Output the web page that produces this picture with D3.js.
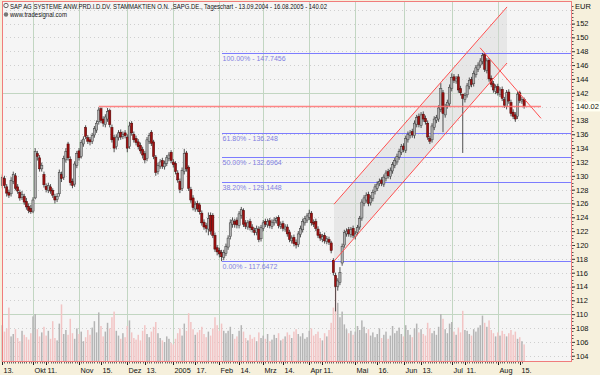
<!DOCTYPE html>
<html>
<head>
<meta charset="utf-8">
<script src="https://cdn.jsdelivr.net/npm/d3@7/dist/d3.min.js"></script>
<style>
  body { margin: 0; background: #f6f0dc; }
  svg { display: block; font-family: "Liberation Sans", Arial, sans-serif; }
</style>
</head>
<body>
<div class="chart"></div>
<script>
// trading calendar (weekdays, exchange holidays removed)
const startDate = "2004-09-13", endDate = "2005-08-16";
const holidays = ["2004-12-24", "2004-12-31", "2005-03-25", "2005-03-28"];

// daily OHLC
const open = [
  128.6,129.6,128.4,127.6,127.4,129.2,130.0,128.4,127.6,126.9,
  127.0,126.3,125.6,125.3,124.9,126.8,133.2,132.6,131.0,130.2,
  128.5,127.9,128.4,127.9,127.0,126.6,127.4,130.2,129.8,132.3,
  134.6,132.4,129.2,128.8,131.5,133.6,132.8,134.6,137.0,135.5,
  135.2,135.0,135.9,136.6,137.8,139.7,138.2,137.4,138.2,139.4,
  137.0,135.5,134.2,135.5,136.3,135.7,136.2,135.6,134.2,137.6,
  136.0,135.4,134.9,134.4,133.8,133.2,132.5,135.0,136.3,134.9,
  132.7,130.6,131.4,132.2,131.3,131.8,132.5,133.4,132.0,131.8,
  130.4,129.2,128.2,130.6,133.3,131.2,128.0,126.8,125.2,126.0,
  125.8,124.6,123.3,122.8,122.3,124.3,124.3,121.4,119.6,119.2,
  118.9,118.2,118.8,119.7,121.2,123.0,123.4,123.6,122.8,124.3,
  125.0,123.2,122.6,123.4,122.6,122.1,121.8,122.3,120.9,122.4,
  123.4,122.9,123.5,122.7,123.2,123.5,124.0,122.7,123.1,122.3,
  122.6,121.8,120.6,121.1,120.4,120.1,121.5,122.2,123.2,123.6,
  124.0,124.6,123.3,123.4,122.3,121.5,120.8,121.4,120.5,120.8,
  120.3,117.8,115.6,114.0,114.6,117.4,120.0,121.6,122.2,121.5,
  122.4,121.2,121.8,122.6,123.9,126.0,126.5,127.3,126.1,126.7,
  127.7,128.2,128.9,129.4,128.8,129.6,130.6,129.9,130.7,131.5,
  132.0,132.7,133.4,134.3,133.7,135.2,135.8,136.4,135.8,137.4,
  138.6,137.3,138.9,138.3,137.6,135.4,135.2,137.0,138.0,138.2,
  139.6,142.0,138.8,140.1,140.4,142.6,144.3,143.7,144.3,142.6,
  141.8,141.0,141.7,142.9,143.9,143.3,144.6,145.4,146.0,146.5,
  147.5,145.2,146.7,144.1,143.3,142.2,142.9,141.8,142.5,141.0,
  140.0,142.1,140.6,139.2,138.8,138.6,142.0,140.8,141.0
];
const high = [
  130.2,130.0,128.8,128.0,129.8,130.6,130.4,128.8,128.0,127.8,
  127.4,126.8,126.0,125.8,126.9,134.0,133.6,133.0,131.9,130.6,
  128.9,129.0,128.8,128.2,127.4,127.5,130.9,130.6,132.9,134.0,
  134.9,132.8,129.6,132.1,133.6,134.0,135.2,135.7,137.3,135.9,
  135.6,136.2,137.2,138.0,139.9,139.9,138.6,138.9,139.8,139.7,
  137.4,135.9,136.0,136.6,136.7,136.4,136.6,136.0,137.8,137.9,
  136.4,135.8,135.3,134.8,134.2,133.6,135.6,136.2,136.6,135.2,
  133.0,131.9,132.4,132.6,132.2,133.0,133.4,133.7,132.4,132.1,
  130.8,129.6,131.2,133.9,133.6,131.5,128.4,127.2,126.3,126.4,
  126.1,125.0,123.7,123.2,124.7,124.7,124.6,121.8,120.0,119.6,
  119.3,119.3,120.2,121.4,123.7,124.0,123.8,124.0,124.9,125.5,
  125.3,123.6,123.6,123.8,123.0,122.5,122.8,122.7,122.9,123.6,
  123.8,123.8,123.9,123.7,124.0,124.1,124.3,123.4,123.5,123.0,
  123.0,122.2,121.4,121.5,120.8,122.0,122.8,123.8,124.2,124.6,
  125.1,124.9,123.7,123.8,122.7,121.9,121.6,121.8,121.3,121.2,
  120.6,118.1,116.0,115.2,116.8,120.2,122.2,122.4,122.6,122.6,
  122.8,122.0,122.9,124.2,126.6,127.2,127.6,127.7,127.2,128.0,
  128.8,129.2,129.6,129.8,130.2,130.8,131.0,131.2,132.0,132.6,
  133.2,133.9,134.6,134.7,135.8,136.4,136.6,136.8,138.0,138.8,
  139.0,139.2,139.3,138.7,138.0,135.8,137.6,138.6,138.8,140.2,
  143.4,142.4,140.4,141.0,143.2,144.8,144.7,144.4,144.7,143.0,
  141.8,142.0,143.4,144.2,144.3,145.2,146.0,146.4,147.0,147.75,
  147.7,147.0,147.0,144.5,143.7,143.2,143.3,142.8,142.9,141.4,
  142.4,142.5,141.0,139.6,139.2,142.2,142.3,141.4,141.3
];
const low = [
  128.2,128.2,127.0,126.8,127.0,128.8,127.9,127.4,126.4,126.5,
  125.8,125.1,124.6,124.5,124.6,126.6,132.2,130.6,130.6,128.3,
  127.6,127.5,127.4,126.8,126.0,126.2,127.0,129.1,129.4,131.9,
  132.2,128.6,128.2,128.4,131.1,132.2,132.5,134.2,135.3,134.6,
  134.4,134.6,135.5,136.2,137.4,137.6,137.1,137.0,137.8,137.0,
  134.8,133.4,133.8,135.1,135.2,135.3,135.4,133.4,133.9,135.8,
  134.8,134.4,133.8,133.2,132.5,131.8,132.1,134.6,134.3,132.4,
  130.0,130.2,131.0,131.0,130.9,131.4,132.1,131.8,131.2,130.2,
  129.0,127.5,127.8,130.2,130.6,127.8,126.1,125.0,124.8,124.8,
  124.4,122.8,122.2,121.8,121.4,121.5,121.0,119.0,118.5,118.2,
  117.65,117.8,118.4,119.3,120.8,122.5,122.5,122.4,122.4,123.8,
  122.6,122.3,122.2,122.1,121.8,121.4,121.4,120.4,120.5,122.0,
  122.6,122.5,122.4,122.3,122.8,123.1,122.4,122.3,122.0,121.9,
  121.2,120.4,120.2,119.8,119.5,119.7,121.1,121.8,122.8,123.2,
  123.6,122.8,122.6,122.0,121.0,120.6,120.4,120.2,120.1,120.0,
  118.8,115.6,110.4,113.4,114.2,117.0,119.6,121.2,121.2,121.1,
  121.0,120.8,121.4,122.2,123.5,125.6,126.1,125.6,125.7,126.3,
  127.3,127.8,128.5,128.5,128.4,129.2,129.6,129.5,130.3,131.1,
  131.6,132.3,133.0,133.4,133.3,134.8,135.4,135.5,135.4,137.0,
  137.0,136.9,137.8,137.4,135.2,134.6,134.8,136.6,137.6,137.8,
  139.2,136.3,138.4,139.7,140.0,142.2,143.4,143.3,142.0,141.6,
  133.3,140.6,141.3,142.5,142.8,142.9,144.2,145.0,145.6,146.1,
  145.0,144.8,143.6,142.8,142.0,141.8,141.6,141.4,140.8,139.8,
  139.6,140.4,138.6,138.2,137.8,138.2,140.5,140.4,139.7
];
const close = [
  129.8,128.6,127.5,127.2,129.3,130.2,128.2,127.8,126.8,127.3,
  126.2,125.5,125.0,124.8,126.5,133.5,132.8,131.0,131.5,128.7,
  128.0,128.6,127.8,127.2,126.5,127.0,130.5,129.6,132.5,133.5,
  132.6,129.0,128.6,131.7,133.2,132.6,134.8,135.3,135.7,135.0,
  134.9,135.8,136.8,137.6,139.5,138.0,137.6,138.5,139.3,137.4,
  135.2,134.0,135.6,136.2,135.6,136.0,135.8,134.0,137.2,136.2,
  135.2,134.8,134.2,133.6,133.0,132.3,135.2,135.8,134.7,132.8,
  130.5,131.5,132.0,131.4,131.8,132.6,133.0,132.2,131.6,130.6,
  129.4,128.0,130.8,133.2,131.0,128.2,126.5,125.4,125.9,125.2,
  124.8,123.2,122.6,122.4,123.8,122.0,121.4,119.4,119.0,118.7,
  118.3,118.9,119.8,121.0,123.2,123.6,123.0,122.9,124.5,125.1,
  123.0,122.7,123.2,122.5,122.2,121.8,122.4,120.8,122.5,123.2,
  123.0,123.4,122.8,123.3,123.6,123.8,122.8,123.0,122.4,122.6,
  121.6,120.8,121.0,120.2,120.0,121.6,122.4,123.4,123.8,124.2,
  124.6,123.2,123.0,122.4,121.4,121.0,121.2,120.6,120.9,120.4,
  119.2,116.0,114.0,114.8,116.0,119.8,121.8,122.0,121.6,122.2,
  121.4,121.6,122.5,123.8,126.2,126.8,127.2,126.0,126.8,127.6,
  128.4,128.8,129.2,128.9,129.8,130.4,130.0,130.8,131.6,132.2,
  132.8,133.5,134.2,133.8,135.4,136.0,136.2,135.9,137.6,138.4,
  137.4,138.8,138.2,137.8,135.6,135.0,137.2,138.2,138.4,139.8,
  142.6,139.0,140.0,140.6,142.8,144.2,143.8,144.0,142.4,142.0,
  141.2,141.6,143.0,143.8,143.2,144.8,145.6,146.0,146.6,147.4,
  145.4,146.6,144.0,143.2,142.4,142.8,142.0,142.4,141.2,140.2,
  142.0,140.8,139.0,138.6,138.2,141.8,140.9,141.0,140.02
];
// volume, million shares
const volume = [
  4.6,3.8,4.2,6.8,3.2,3.5,4.1,3.0,2.6,3.9,
  3.4,3.1,2.8,3.6,5.7,6.0,4.1,3.2,3.7,4.4,
  3.3,3.9,2.9,5.1,3.0,2.7,4.8,7.2,3.5,4.0,
  3.4,5.4,3.6,2.9,4.2,3.5,3.8,2.6,3.1,4.0,
  3.4,4.3,5.1,3.7,6.2,4.5,3.2,3.8,4.9,4.2,
  5.6,6.3,3.9,3.3,2.9,3.6,3.1,4.5,5.2,3.7,
  3.0,2.8,3.4,2.7,3.9,4.6,3.5,3.1,3.8,4.4,
  5.0,3.6,3.0,2.7,2.5,3.2,2.9,2.4,2.2,2.9,
  3.6,4.2,3.3,4.8,3.9,6.1,5.0,4.1,3.4,3.7,
  4.0,4.4,3.5,3.1,3.8,3.3,4.2,5.6,4.6,3.9,
  4.8,3.9,3.6,3.9,4.4,3.5,2.9,3.2,3.9,4.6,
  3.8,3.0,2.7,3.4,2.9,3.1,2.6,3.7,3.0,3.3,
  2.9,3.5,2.6,2.8,3.4,3.0,3.6,2.7,2.9,3.2,
  3.7,3.4,3.0,3.8,4.1,3.5,3.2,3.6,2.9,3.1,
  3.9,4.2,3.3,3.5,3.8,3.0,2.7,3.6,3.2,4.0,
  4.9,6.8,9.5,7.4,5.6,6.3,4.7,4.1,3.6,3.9,
  3.4,3.8,4.5,4.0,5.2,4.4,3.6,4.1,3.3,3.7,
  3.1,3.5,4.2,3.0,3.4,3.8,2.9,3.3,4.5,3.6,
  3.9,4.3,3.5,3.2,4.6,4.0,3.4,3.1,4.2,4.8,
  3.7,4.1,3.5,3.3,4.9,4.2,3.6,3.9,3.4,4.4,
  6.0,5.4,4.1,3.6,4.8,5.0,3.8,3.4,4.3,3.7,
  6.4,4.0,3.9,3.5,3.3,4.1,3.8,4.3,4.6,5.8,
  4.9,4.4,5.2,4.0,3.6,3.2,3.7,3.3,3.9,3.5,
  3.2,3.6,4.0,3.4,3.8,2.9,3.1,2.6,2.2
];

// axis labels (140 is hidden behind the last-price marker)
const yTickLabels = [104,106,108,110,112,114,116,118,120,122,124,126,128,130,132,134,136,138,142,144,146,148,150,152];
const ySolidGrid = [110, 126, 142];
const monthDates = ["2004-10-01","2004-11-01","2004-12-01","2005-01-03","2005-02-01","2005-03-01","2005-04-01","2005-05-02","2005-06-01","2005-07-01","2005-08-01"];
const monthNames = ["Okt","Nov","Dez","2005","Feb","Mrz","Apr","Mai","Jun","Jul","Aug"];
const dayDates = ["2004-09-13","2004-10-11","2004-11-15","2004-12-13","2005-01-17","2005-02-14","2005-03-14","2005-04-11","2005-05-16","2005-06-13","2005-07-11","2005-08-15"];
const dayNames = ["13.","11.","15.","13.","17.","14.","14.","11.","16.","13.","11.","15."];

// drawing tools (day index, price)
const fibNames = ["100.00%","61.80%","50.00%","38.20%","0.00%"];
const fibValues = [147.7456, 136.248, 132.6964, 129.1448, 117.6472];
const fibFrom = 100;
const channelUpper = [[151.3, 125.9], [230.2, 154.4]];
const channelLower = [[151.3, 117.65], [230.2, 146.3]];
const downTrend = [[217.9, 148.5], [245.7, 138.3]];
const resistance = [[44, 140.02], [245.7, 140.02]];
const lastPrice = 140.02;

const titleText = "SAP AG SYSTEME ANW.PRD.I.D.DV. STAMMAKTIEN O.N. ,SAPG.DE., Tageschart - 13.09.2004 - 16.08.2005 - 140.02";

const W = 600, H = 375;
const plot = {left: 2, right: 572, top: 1, bottom: 362};

const fmt = d3.timeFormat("%Y-%m-%d");
const parse = d3.timeParse("%Y-%m-%d");
const days = d3.timeDay.range(parse(startDate), d3.timeDay.offset(parse(endDate), 1))
    .filter(d => d.getDay() > 0 && d.getDay() < 6 && !holidays.includes(fmt(d)));
const dayIndex = s => days.findIndex(d => fmt(d) === s);

const x = d3.scaleLinear().domain([0, 259.7]).range([2.3, 571.7]);
const y = d3.scaleLinear().domain([103.09, 155.26]).range([362, 1]);
const vh = d3.scaleLinear().domain([0, 10]).range([0, 80]);

const svg = d3.select(".chart").append("svg")
    .attr("width", W).attr("height", H);

svg.append("rect").attr("width", W).attr("height", H).attr("fill", "#f6f0dc");
svg.append("rect")
    .attr("x", plot.left).attr("y", plot.top)
    .attr("width", plot.right - plot.left).attr("height", plot.bottom - plot.top)
    .attr("fill", "#f5f5f5");

const g = svg.append("g");

// grid
d3.range(104, 156, 2).forEach(v => {
    const solid = ySolidGrid.includes(v);
    g.append("line")
        .attr("x1", plot.left).attr("x2", plot.right)
        .attr("y1", Math.round(y(v)) + 0.5).attr("y2", Math.round(y(v)) + 0.5)
        .attr("stroke", solid ? "#c2d6c2" : "#cfcfcf")
        .attr("shape-rendering", "crispEdges")
        .attr("stroke-dasharray", solid ? null : "1,3");
});
monthDates.forEach(s => {
    const xx = Math.round(x(dayIndex(s))) + 0.5;
    g.append("line")
        .attr("x1", xx).attr("x2", xx).attr("y1", plot.top).attr("y2", plot.bottom)
        .attr("stroke", "#c2d6c2").attr("shape-rendering", "crispEdges");
});

// channel shading
const chPoly = [channelUpper[0], channelUpper[1], channelLower[1], channelLower[0]];
g.append("path")
    .attr("d", "M" + chPoly.map(p => [x(p[0]), y(p[1])].join(",")).join("L") + "Z")
    .attr("fill", "#d8d8d8").attr("fill-opacity", 0.45);

// fibonacci retracement
fibValues.forEach((v, k) => {
    const yy = Math.round(y(v)) + 0.5;
    g.append("line")
        .attr("x1", Math.round(x(fibFrom))).attr("x2", plot.right)
        .attr("y1", yy).attr("y2", yy)
        .attr("stroke", "#7c7cff").attr("stroke-width", 1)
        .attr("shape-rendering", "crispEdges");
    g.append("text")
        .attr("x", x(fibFrom) + 1).attr("y", yy + 7.5)
        .attr("font-size", 7).attr("fill", "#7f7fe0")
        .text(fibNames[k] + " - " + v);
});

// volume
const vol = g.append("g");
volume.forEach((v, i) => {
    vol.append("rect")
        .attr("x", x(i) - 0.75).attr("width", 1.5)
        .attr("y", plot.bottom - vh(v)).attr("height", vh(v))
        .attr("fill", close[i] < open[i] ? "#f2c4c4" : "#b4b4b4");
});

// candles
const candles = g.append("g");
close.forEach((c, i) => {
    const o = open[i], up = c >= o;
    const cx = x(i);
    candles.append("line")
        .attr("x1", cx).attr("x2", cx)
        .attr("y1", y(high[i])).attr("y2", y(low[i]))
        .attr("stroke", "#2a2a2a").attr("stroke-width", 0.8);
    const top = y(Math.max(o, c)), bot = y(Math.min(o, c));
    candles.append("rect")
        .attr("x", cx - 1.1).attr("width", 2.2)
        .attr("y", top).attr("height", Math.max(1, bot - top))
        .attr("fill", up ? "#b0b0b0" : "#9e1010")
        .attr("stroke", up ? "#3a3a3a" : "#4a0808").attr("stroke-width", 0.5);
});

// trend lines
const lineOf = pts => "M" + pts.map(p => [x(p[0]), y(p[1])].join(",")).join("L");
[channelUpper, channelLower, downTrend].forEach(pts => {
    g.append("path").attr("d", lineOf(pts))
        .attr("fill", "none").attr("stroke", "#ff5050").attr("stroke-width", 1);
});
g.append("path").attr("d", lineOf(resistance))
    .attr("fill", "none").attr("stroke", "#ff7070").attr("stroke-width", 1.6).attr("stroke-opacity", 0.85);

// border
svg.append("rect")
    .attr("x", plot.left + 0.5).attr("y", plot.top + 0.5)
    .attr("width", plot.right - plot.left - 1).attr("height", plot.bottom - plot.top - 1)
    .attr("fill", "none").attr("stroke", "#f07c7c");

// title
svg.append("circle").attr("cx", 6).attr("cy", 5.5).attr("r", 2.2)
    .attr("fill", "none").attr("stroke", "#555").attr("stroke-width", 0.9);
svg.append("text").attr("x", 10).attr("y", 8.5)
    .attr("font-size", 7.3).attr("fill", "#111")
    .attr("textLength", 317).attr("lengthAdjust", "spacingAndGlyphs")
    .text(titleText);
svg.append("circle").attr("cx", 6).attr("cy", 14.5).attr("r", 2.2)
    .attr("fill", "#777");
svg.append("text").attr("x", 10).attr("y", 17)
    .attr("font-size", 7.3).attr("fill", "#111")
    .attr("textLength", 57).attr("lengthAdjust", "spacingAndGlyphs")
    .text("www.tradesignal.com");

// right axis
const yAxis = d3.axisRight(y).tickValues(yTickLabels).tickSize(3).tickPadding(1)
    .tickFormat(d => d);
const ya = svg.append("g").attr("transform", `translate(${plot.right},0)`).call(yAxis);
ya.select(".domain").remove();
ya.selectAll("text").attr("font-size", 7.5).attr("fill", "#111")
    .attr("font-family", "Liberation Sans, Arial, sans-serif");
ya.selectAll("line").attr("stroke", "#333");
d3.range(103.5, 155, 0.5).forEach(v => {
    svg.append("line")
        .attr("x1", plot.right).attr("x2", plot.right + 1.5)
        .attr("y1", Math.round(y(v)) + 0.5).attr("y2", Math.round(y(v)) + 0.5)
        .attr("stroke", "#555").attr("stroke-width", 1);
});
svg.append("text").attr("x", 575).attr("y", 9).attr("font-size", 7.5).attr("fill", "#111").text("EUR");
svg.append("rect").attr("x", 574).attr("y", y(lastPrice) - 5).attr("width", 26).attr("height", 10)
    .attr("fill", "#fffff2");
svg.append("text").attr("x", 576).attr("y", y(lastPrice) + 2.7).attr("font-size", 7.5)
    .attr("fill", "#111").text(lastPrice.toFixed(2));

// bottom axis
days.forEach((d, i) => {
    svg.append("line")
        .attr("x1", Math.round(x(i)) + 0.5).attr("x2", Math.round(x(i)) + 0.5)
        .attr("y1", plot.bottom).attr("y2", plot.bottom + 1.5)
        .attr("stroke", "#666");
});
const addLabel = (s, t) => {
    const xx = Math.round(x(dayIndex(s))) + 0.5;
    svg.append("line").attr("x1", xx).attr("x2", xx)
        .attr("y1", plot.bottom).attr("y2", plot.bottom + 3).attr("stroke", "#222");
    svg.append("text").attr("x", xx + 1).attr("y", 373)
        .attr("font-size", 7.3).attr("fill", "#111").text(t);
};
monthDates.forEach((s, k) => addLabel(s, monthNames[k]));
dayDates.forEach((s, k) => addLabel(s, dayNames[k]));
</script>
</body>
</html>
